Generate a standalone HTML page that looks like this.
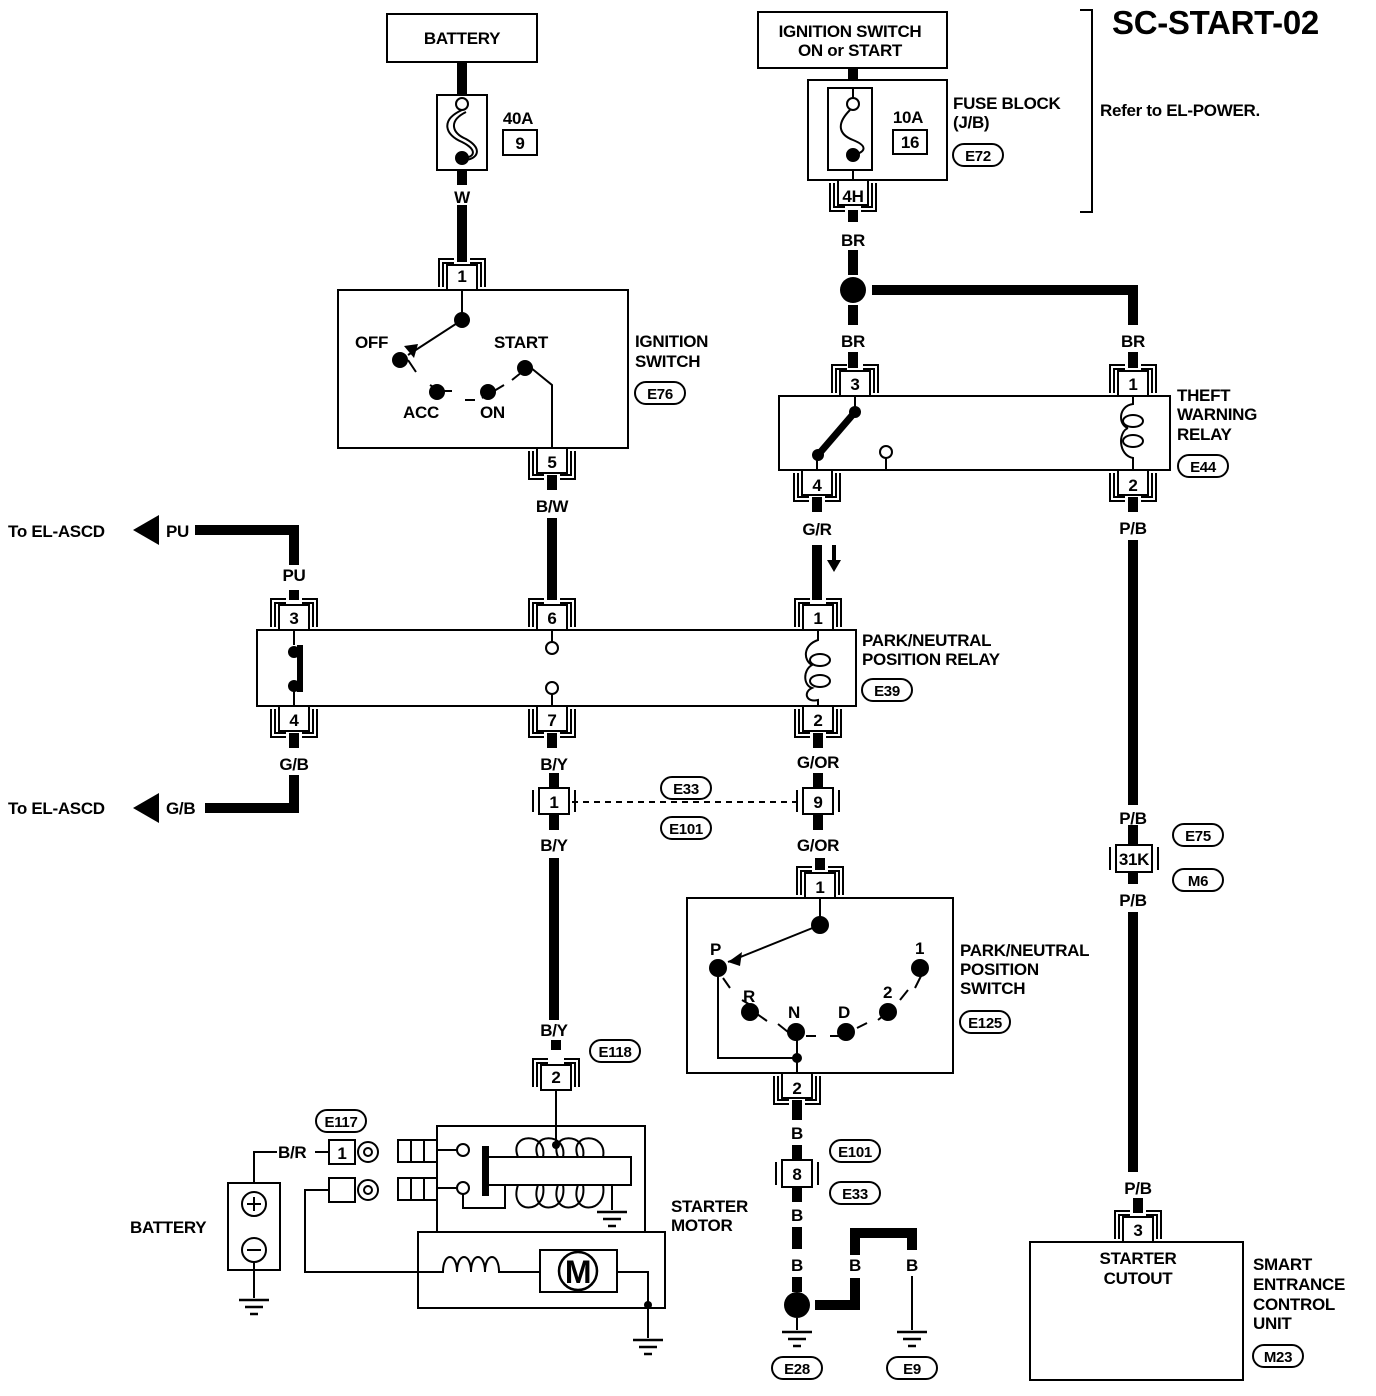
<!DOCTYPE html>
<html><head><meta charset="utf-8"><style>
html,body{margin:0;padding:0;background:#fff}
svg{display:block}
text{font-family:"Liberation Sans",sans-serif;font-size:17px;fill:#000;font-weight:bold;letter-spacing:-0.3px}
</style></head><body>
<svg width="1376" height="1396" viewBox="0 0 1376 1396" xmlns="http://www.w3.org/2000/svg">
<defs>
<g id="ct" fill="none" stroke="#000" stroke-width="2">
<rect x="-15" y="-25" width="30" height="25" fill="#fff"/>
<path d="M-23,-3 V-31 H-8 M8,-31 H23 V-3"/>
<path d="M-19,-3 V-27 H-8 M8,-27 H19 V-3"/>
</g>
<g id="gnd" stroke="#000" stroke-width="2.5">
<line x1="-15" y1="0" x2="15" y2="0"/><line x1="-9" y1="7" x2="9" y2="7"/><line x1="-4" y1="14" x2="4" y2="14"/>
</g>
</defs>
<g fill="none" stroke="#000" stroke-width="2">
<rect x="387" y="14" width="150" height="48"/>
<rect x="437" y="95" width="50" height="75"/>
<rect x="503" y="130" width="34" height="25"/>
<path d="M462,110 C440,120 445,135 462,142 C478,150 475,158 462,158"/>
<path d="M466,112 C448,121 452,133 466,139 C482,148 479,158 466,160"/>
<circle cx="462" cy="104" r="6" fill="#fff"/>
<circle cx="462" cy="158" r="6" fill="#000"/>
<rect x="338" y="290" width="290" height="158"/>
<path d="M462,290 V320 L408,355" />
<path d="M552,448 V385 L525,363"/>
<path d="M408,360 l8,12 M430,385 l10,6 l12,0 M465,400 l10,0 M482,398 l12,-7 l10,-6 M512,380 l10,-8"/>
<rect x="758" y="12" width="189" height="56"/>
<rect x="808" y="80" width="139" height="100"/>
<rect x="828" y="88" width="44" height="82"/>
<rect x="893" y="130" width="34" height="24"/>
<path d="M853,68 V80 M853,88 V100 M850,110 C835,125 840,135 853,140 C868,146 866,152 853,155 M853,170 V183"/>
<circle cx="853" cy="104" r="6" fill="#fff"/>
<circle cx="853" cy="155" r="6" fill="#000"/>
<path d="M1080,10 H1092 V212 H1080"/>
<rect x="779" y="396" width="391" height="74"/>
<path d="M855,396 V412 M817,470 V455 M886,470 V458"/>
<circle cx="886" cy="452" r="6" fill="#fff"/>
<path d="M1133,396 V404 C1118,406 1118,425 1128,428 M1128,428 C1118,432 1118,455 1133,458 V470"/>
<ellipse cx="1133" cy="421" rx="10" ry="6"/><ellipse cx="1133" cy="441" rx="10" ry="6"/>
<rect x="257" y="630" width="599" height="76"/>
<path d="M294,630 V645 M294,690 V706 M552,630 V642 M552,694 V706 M818,630 V640 C803,645 803,660 812,665 C803,670 803,685 812,688 C803,692 806,703 818,700 V706"/>
<ellipse cx="820" cy="660" rx="10" ry="6"/><ellipse cx="820" cy="681" rx="10" ry="6"/>
<circle cx="552" cy="648" r="6" fill="#fff"/><circle cx="552" cy="688" r="6" fill="#fff"/>
<rect x="687" y="898" width="266" height="175"/>
<path d="M820,898 V925 L728,962 M718,968 V1058 H797 M797,1030 V1073"/>
<path d="M723,978 l7,10 M742,1000 l10,6 M757,1014 l10,7 M778,1024 l10,8 M806,1036 l10,0 M830,1036 l10,0 M857,1028 l10,-5 M878,1020 l10,-8 M900,1000 l8,-10 M915,988 l6,-12"/>
<path d="M572,802 H798" stroke-dasharray="6,5"/>
<rect x="437" y="1126" width="208" height="106"/>
<rect x="418" y="1232" width="247" height="76"/>
<rect x="483" y="1147" width="5" height="48" fill="#000"/>
<rect x="488" y="1157" width="143" height="28"/>
<path d="M518,1157 c-10,-25 30,-25 25,0 M538,1157 c-10,-25 30,-25 25,0 M558,1157 c-10,-25 30,-25 25,0 M578,1157 c-10,-25 30,-25 25,0"/>
<path d="M518,1185 c-10,30 30,30 25,0 M538,1185 c-10,30 30,30 25,0 M558,1185 c-10,30 30,30 25,0 M578,1185 c-10,30 30,30 25,0"/>
<path d="M556,1090 V1145 M437,1150 H457 M437,1188 H457 M463,1194 V1208 H505 V1185 M612,1185 V1210"/>
<circle cx="463" cy="1150" r="6" fill="#fff"/><circle cx="463" cy="1188" r="6" fill="#fff"/>
<rect x="398" y="1140" width="39" height="22"/><path d="M411,1140 V1162 M424,1140 V1162"/>
<rect x="398" y="1178" width="39" height="22"/><path d="M411,1178 V1200 M424,1178 V1200"/>
<rect x="329" y="1140" width="26" height="24"/><rect x="329" y="1178" width="26" height="24"/>
<circle cx="368" cy="1152" r="10"/><circle cx="368" cy="1152" r="4"/>
<circle cx="368" cy="1190" r="10"/><circle cx="368" cy="1190" r="4"/>
<path d="M329,1190 H305 V1272 H443 c0,-20 14,-20 14,0 c0,-20 14,-20 14,0 c0,-20 14,-20 14,0 c0,-20 14,-20 14,0 H540 M617,1272 H648 V1338"/>
<rect x="540" y="1250" width="77" height="42"/>
<circle cx="578" cy="1271" r="19" stroke-width="2.5"/>
<rect x="228" y="1183" width="52" height="87"/>
<circle cx="254" cy="1204" r="12"/><path d="M247,1204 H261 M254,1197 V1211"/>
<circle cx="254" cy="1250" r="12"/><path d="M247,1250 H261"/>
<path d="M254,1183 V1152 H277 M315,1152 H329 M254,1262 V1298"/>
<rect x="1030" y="1242" width="213" height="138"/>
<path d="M797,1318 V1330 M912,1276 V1330"/>
</g>
<circle cx="648" cy="1305" r="4"/>
<circle cx="556" cy="1145" r="4"/>
<circle cx="797" cy="1058" r="5"/>
<circle cx="462" cy="320" r="8"/><circle cx="400" cy="360" r="8"/><circle cx="525" cy="368" r="8"/>
<circle cx="437" cy="392" r="8"/><circle cx="488" cy="392" r="8"/>
<path d="M414,358 l4,-14 l-14,2 z"/>
<circle cx="820" cy="925" r="9"/><circle cx="718" cy="968" r="9"/><circle cx="750" cy="1012" r="9"/>
<circle cx="796" cy="1032" r="9"/><circle cx="846" cy="1032" r="9"/><circle cx="888" cy="1012" r="9"/><circle cx="920" cy="968" r="9"/>
<path d="M728,962 l14,-10 l-2,14 z"/>
<line x1="818" y1="455" x2="855" y2="412" stroke="#000" stroke-width="7"/>
<circle cx="855" cy="412" r="6"/><circle cx="818" cy="455" r="6"/>
<rect x="297" y="645" width="6" height="47"/>
<circle cx="294" cy="652" r="6"/><circle cx="294" cy="686" r="6"/>
<g fill="#000">
<rect x="457" y="62" width="10" height="33"/><rect x="457" y="170" width="10" height="15"/>
<rect x="457" y="205" width="10" height="57"/>
<rect x="547" y="475" width="10" height="15"/><rect x="547" y="518" width="10" height="82"/>
<rect x="848" y="68" width="10" height="12"/>
<rect x="848" y="210" width="10" height="12"/><rect x="848" y="250" width="10" height="25"/>
<circle cx="853" cy="290" r="13"/>
<rect x="872" y="285" width="266" height="10"/><rect x="1128" y="285" width="10" height="40"/>
<rect x="848" y="305" width="10" height="20"/><rect x="848" y="352" width="10" height="16"/>
<rect x="1128" y="352" width="10" height="16"/>
<rect x="812" y="497" width="10" height="15"/><rect x="812" y="545" width="10" height="55"/>
<rect x="1128" y="497" width="10" height="15"/><rect x="1128" y="540" width="10" height="265"/>
<rect x="1128" y="825" width="10" height="20"/>
<rect x="1128" y="872" width="10" height="12"/><rect x="1128" y="912" width="10" height="260"/>
<rect x="1133" y="1198" width="10" height="15"/>
<rect x="289" y="525" width="10" height="40"/><rect x="195" y="525" width="104" height="10"/>
<rect x="289" y="590" width="10" height="10"/>
<rect x="289" y="733" width="10" height="15"/><rect x="289" y="775" width="10" height="38"/><rect x="205" y="803" width="94" height="10"/>
<rect x="547" y="733" width="10" height="15"/><rect x="549" y="773" width="10" height="15"/>
<rect x="813" y="733" width="10" height="15"/><rect x="813" y="773" width="10" height="15"/>
<rect x="549" y="815" width="10" height="15"/><rect x="549" y="858" width="10" height="162"/>
<rect x="551" y="1040" width="10" height="10"/>
<rect x="813" y="815" width="10" height="15"/><rect x="815" y="858" width="10" height="12"/>
<rect x="792" y="1100" width="10" height="20"/><rect x="792" y="1145" width="10" height="15"/>
<rect x="792" y="1187" width="10" height="15"/><rect x="792" y="1227" width="10" height="22"/><rect x="792" y="1277" width="10" height="15"/>
<circle cx="797" cy="1305" r="13"/>
<rect x="815" y="1300" width="45" height="10"/><rect x="850" y="1278" width="10" height="32"/>
<rect x="850" y="1228" width="10" height="27"/><rect x="850" y="1228" width="67" height="10"/><rect x="907" y="1228" width="10" height="22"/>
<path d="M133,530 l26,-15 v30 z"/><path d="M133,808 l26,-15 v30 z"/>
<path d="M832,545 h4 v15 h5 l-7,12 l-7,-12 h5 z"/>
</g>
<use href="#ct" transform="translate(462,290)"/>
<use href="#ct" transform="translate(552,448) scale(1,-1)"/>
<use href="#ct" transform="translate(853,180) scale(1,-1)"/>
<use href="#ct" transform="translate(855,396)"/>
<use href="#ct" transform="translate(1133,396)"/>
<use href="#ct" transform="translate(817,470) scale(1,-1)"/>
<use href="#ct" transform="translate(1133,470) scale(1,-1)"/>
<use href="#ct" transform="translate(294,630)"/>
<use href="#ct" transform="translate(552,630)"/>
<use href="#ct" transform="translate(818,630)"/>
<use href="#ct" transform="translate(294,706) scale(1,-1)"/>
<use href="#ct" transform="translate(552,706) scale(1,-1)"/>
<use href="#ct" transform="translate(818,706) scale(1,-1)"/>
<use href="#ct" transform="translate(820,898)"/>
<use href="#ct" transform="translate(797,1073) scale(1,-1)"/>
<use href="#ct" transform="translate(1138,1242)"/>
<use href="#ct" transform="translate(556,1090)"/>
<g fill="#fff" stroke="#000" stroke-width="2">
<rect x="539" y="788" width="30" height="26"/><path d="M533,790 V812 M575,790 V812" fill="none"/>
<rect x="803" y="788" width="30" height="26"/><path d="M797,790 V812 M839,790 V812" fill="none"/>
<rect x="1116" y="845" width="36" height="27"/><path d="M1110,847 V870 M1158,847 V870" fill="none"/>
<rect x="782" y="1160" width="30" height="27"/><path d="M776,1162 V1185 M818,1162 V1185" fill="none"/>
</g>
<g>
<text x="462" y="44" text-anchor="middle">BATTERY</text>
<text x="518" y="124" text-anchor="middle">40A</text><text x="520" y="149" text-anchor="middle">9</text>
<text x="462" y="203" text-anchor="middle">W</text>
<text x="850" y="37" text-anchor="middle">IGNITION SWITCH</text><text x="850" y="56" text-anchor="middle">ON or START</text>
<text x="908" y="123" text-anchor="middle">10A</text><text x="910" y="148" text-anchor="middle">16</text>
<text x="853" y="202" text-anchor="middle">4H</text>
<text x="853" y="246" text-anchor="middle">BR</text><text x="853" y="347" text-anchor="middle">BR</text><text x="1133" y="347" text-anchor="middle">BR</text>
<text x="462" y="282" text-anchor="middle">1</text><text x="552" y="468" text-anchor="middle">5</text>
<text x="552" y="512" text-anchor="middle">B/W</text>
<text x="855" y="390" text-anchor="middle">3</text><text x="1133" y="390" text-anchor="middle">1</text>
<text x="817" y="491" text-anchor="middle">4</text><text x="1133" y="491" text-anchor="middle">2</text>
<text x="817" y="535" text-anchor="middle">G/R</text><text x="1133" y="534" text-anchor="middle">P/B</text>
<text x="294" y="581" text-anchor="middle">PU</text>
<text x="294" y="624" text-anchor="middle">3</text><text x="552" y="624" text-anchor="middle">6</text><text x="818" y="624" text-anchor="middle">1</text>
<text x="294" y="726" text-anchor="middle">4</text><text x="552" y="726" text-anchor="middle">7</text><text x="818" y="726" text-anchor="middle">2</text>
<text x="294" y="770" text-anchor="middle">G/B</text><text x="554" y="770" text-anchor="middle">B/Y</text><text x="818" y="768" text-anchor="middle">G/OR</text>
<text x="554" y="808" text-anchor="middle">1</text><text x="818" y="808" text-anchor="middle">9</text>
<text x="554" y="851" text-anchor="middle">B/Y</text><text x="818" y="851" text-anchor="middle">G/OR</text>
<text x="1133" y="824" text-anchor="middle">P/B</text><text x="1134" y="865" text-anchor="middle">31K</text><text x="1133" y="906" text-anchor="middle">P/B</text>
<text x="820" y="893" text-anchor="middle">1</text><text x="797" y="1094" text-anchor="middle">2</text>
<text x="554" y="1036" text-anchor="middle">B/Y</text><text x="556" y="1083" text-anchor="middle">2</text>
<text x="797" y="1139" text-anchor="middle">B</text><text x="797" y="1180" text-anchor="middle">8</text><text x="797" y="1221" text-anchor="middle">B</text>
<text x="797" y="1271" text-anchor="middle">B</text><text x="855" y="1271" text-anchor="middle">B</text><text x="912" y="1271" text-anchor="middle">B</text>
<text x="1138" y="1194" text-anchor="middle">P/B</text><text x="1138" y="1236" text-anchor="middle">3</text>
<text x="1138" y="1264" text-anchor="middle">STARTER</text><text x="1138" y="1284" text-anchor="middle">CUTOUT</text>
<text x="342" y="1159" text-anchor="middle">1</text>
<text x="578" y="1283" text-anchor="middle" style="font-size:32px">M</text>
</g>
<text x="1112" y="34" style="font-size:33px">SC-START-02</text>
<text x="1100" y="116">Refer to EL-POWER.</text>
<text x="953" y="109">FUSE BLOCK</text><text x="953" y="128">(J/B)</text>
<text x="355" y="348">OFF</text><text x="494" y="348">START</text><text x="403" y="418">ACC</text><text x="480" y="418">ON</text>
<text x="635" y="347">IGNITION</text><text x="635" y="367">SWITCH</text>
<text x="1177" y="401">THEFT</text><text x="1177" y="420">WARNING</text><text x="1177" y="440">RELAY</text>
<text x="8" y="537">To EL-ASCD</text><text x="166" y="537">PU</text>
<text x="8" y="814">To EL-ASCD</text><text x="166" y="814">G/B</text>
<text x="862" y="646">PARK/NEUTRAL</text><text x="862" y="665">POSITION RELAY</text>
<text x="960" y="956">PARK/NEUTRAL</text><text x="960" y="975">POSITION</text><text x="960" y="994">SWITCH</text>
<text x="710" y="955">P</text><text x="743" y="1002">R</text><text x="788" y="1018">N</text><text x="838" y="1018">D</text><text x="883" y="998">2</text><text x="915" y="954">1</text>
<text x="671" y="1212">STARTER</text><text x="671" y="1231">MOTOR</text>
<text x="130" y="1233">BATTERY</text>
<text x="278" y="1158">B/R</text>
<text x="1253" y="1270">SMART</text><text x="1253" y="1290">ENTRANCE</text><text x="1253" y="1310">CONTROL</text><text x="1253" y="1329">UNIT</text>
<g fill="none" stroke="#000" stroke-width="2">
<rect x="953" y="144" width="50" height="22" rx="11"/>
<rect x="635" y="382" width="50" height="22" rx="11"/>
<rect x="1178" y="455" width="50" height="22" rx="11"/>
<rect x="862" y="679" width="50" height="22" rx="11"/>
<rect x="661" y="777" width="50" height="22" rx="11"/>
<rect x="661" y="817" width="50" height="22" rx="11"/>
<rect x="1173" y="824" width="50" height="22" rx="11"/>
<rect x="1173" y="869" width="50" height="22" rx="11"/>
<rect x="960" y="1011" width="50" height="22" rx="11"/>
<rect x="590" y="1040" width="50" height="22" rx="11"/>
<rect x="830" y="1140" width="50" height="22" rx="11"/>
<rect x="830" y="1182" width="50" height="22" rx="11"/>
<rect x="316" y="1110" width="50" height="22" rx="11"/>
<rect x="772" y="1357" width="50" height="22" rx="11"/>
<rect x="887" y="1357" width="50" height="22" rx="11"/>
<rect x="1253" y="1345" width="50" height="22" rx="11"/>
</g>
<g>
<text x="978" y="161" text-anchor="middle" style="font-size:15px">E72</text>
<text x="660" y="399" text-anchor="middle" style="font-size:15px">E76</text>
<text x="1203" y="472" text-anchor="middle" style="font-size:15px">E44</text>
<text x="887" y="696" text-anchor="middle" style="font-size:15px">E39</text>
<text x="686" y="794" text-anchor="middle" style="font-size:15px">E33</text>
<text x="686" y="834" text-anchor="middle" style="font-size:15px">E101</text>
<text x="1198" y="841" text-anchor="middle" style="font-size:15px">E75</text>
<text x="1198" y="886" text-anchor="middle" style="font-size:15px">M6</text>
<text x="985" y="1028" text-anchor="middle" style="font-size:15px">E125</text>
<text x="615" y="1057" text-anchor="middle" style="font-size:15px">E118</text>
<text x="855" y="1157" text-anchor="middle" style="font-size:15px">E101</text>
<text x="855" y="1199" text-anchor="middle" style="font-size:15px">E33</text>
<text x="341" y="1127" text-anchor="middle" style="font-size:15px">E117</text>
<text x="797" y="1374" text-anchor="middle" style="font-size:15px">E28</text>
<text x="912" y="1374" text-anchor="middle" style="font-size:15px">E9</text>
<text x="1278" y="1362" text-anchor="middle" style="font-size:15px">M23</text>
</g>
<use href="#gnd" transform="translate(612,1212)"/>
<use href="#gnd" transform="translate(648,1340)"/>
<use href="#gnd" transform="translate(254,1300)"/>
<use href="#gnd" transform="translate(797,1332)"/>
<use href="#gnd" transform="translate(912,1332)"/>
</svg>
</body></html>
